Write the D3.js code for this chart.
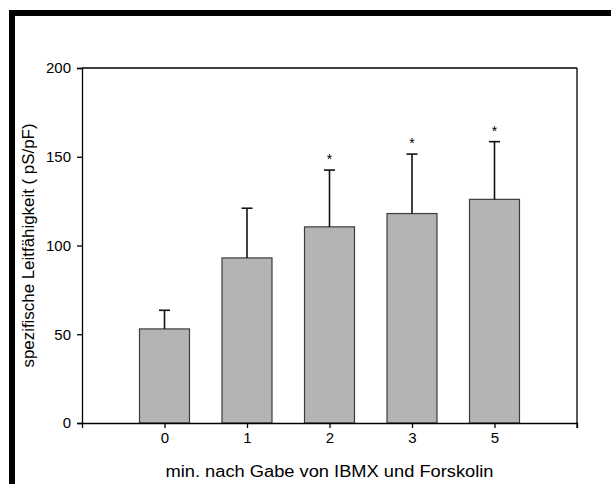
<!DOCTYPE html>
<html>
<head>
<meta charset="utf-8">
<script src="https://cdn.jsdelivr.net/npm/d3@7/dist/d3.min.js"></script>
<style>
  html, body { margin: 0; padding: 0; background: #fff; }
  svg { display: block; }
  text { font-family: "Liberation Sans", Arial, sans-serif; fill: #000; }
</style>
</head>
<body>
<svg id="chart" width="611" height="484"></svg>
<script>
// Conductance after IBMX + forskolin, mean with upward SD bars
const categories = ["0", "1", "2", "3", "5"];
const means = [53, 93, 110.5, 118, 126];
const errors = [10.5, 28, 32, 33.5, 32.5];
const significant = [false, false, true, true, true];
const yTicks = [0, 50, 100, 150, 200];
const xTitle = "min. nach Gabe von IBMX und Forskolin";
const yTitle = "spezifische Leitfähigkeit ( pS/pF)";

const svg = d3.select("#chart");
const plot = { left: 82, right: 577, top: 68, bottom: 423 };

// Outer black frame (top and left edges)
svg.append("rect").attr("x", 9).attr("y", 10).attr("width", 602).attr("height", 6).attr("fill", "#000");
svg.append("rect").attr("x", 9).attr("y", 10).attr("width", 6).attr("height", 474).attr("fill", "#000");

const x = d3.scaleLinear().domain([-1, categories.length]).range([plot.left, plot.right]);
const y = d3.scaleLinear().domain([0, 200]).range([plot.bottom, plot.top]);
const halfBar = 0.303;

// Plot frame
const frame = svg.append("g").attr("fill", "none").attr("stroke", "#000").attr("stroke-width", 1.3);
frame.append("line").attr("x1", plot.left).attr("x2", plot.right).attr("y1", plot.top).attr("y2", plot.top);
frame.append("line").attr("x1", plot.right).attr("x2", plot.right).attr("y1", plot.top).attr("y2", plot.bottom + 5);

// Bars
svg.append("g").selectAll("rect").data(means).join("rect")
  .attr("x", (d, i) => x(i - halfBar))
  .attr("width", (d, i) => x(i + halfBar) - x(i - halfBar))
  .attr("y", d => y(d))
  .attr("height", d => y(0) - y(d))
  .attr("fill", "#b4b4b4")
  .attr("stroke", "#3c3c3c")
  .attr("stroke-width", 1.2);

// Error bars (upper only)
const eb = svg.append("g").attr("stroke", "#111").attr("stroke-width", 1.6);
means.forEach((m, i) => {
  const top = y(m + errors[i]);
  eb.append("line").attr("x1", x(i)).attr("x2", x(i)).attr("y1", y(m)).attr("y2", top);
  eb.append("line").attr("x1", x(i) - 5.5).attr("x2", x(i) + 5.5).attr("y1", top).attr("y2", top);
});

// Significance markers
svg.append("g").selectAll("text").data(means.map((m, i) => ({ m, i })).filter(d => significant[d.i])).join("text")
  .attr("x", d => x(d.i))
  .attr("y", d => y(d.m + errors[d.i]) - 6)
  .attr("text-anchor", "middle")
  .attr("font-size", 14)
  .text("*");

// Y axis
const yAxis = svg.append("g").attr("transform", `translate(${plot.left},0)`)
  .call(d3.axisLeft(y).tickValues(yTicks).tickSize(5).tickPadding(6));
yAxis.selectAll("text").attr("font-size", 15);
yAxis.select(".domain").attr("stroke-width", 1.3);
yAxis.selectAll(".tick line").attr("stroke-width", 1.3);

// X axis
const xAxis = svg.append("g").attr("transform", `translate(0,${plot.bottom})`)
  .call(d3.axisBottom(x).tickValues(d3.range(categories.length)).tickFormat(i => categories[i]).tickSize(5).tickSizeOuter(5).tickPadding(4));
xAxis.selectAll("text").attr("font-size", 15);
xAxis.select(".domain").attr("stroke-width", 1.3);
xAxis.selectAll(".tick line").attr("stroke-width", 1.3);

// Axis titles
svg.append("text").attr("x", (plot.left + plot.right) / 2).attr("y", 477)
  .attr("text-anchor", "middle").attr("font-size", 16)
  .attr("textLength", 328).attr("lengthAdjust", "spacingAndGlyphs").text(xTitle);
svg.append("text").attr("transform", `translate(34,${(plot.top + plot.bottom) / 2}) rotate(-90)`)
  .attr("text-anchor", "middle").attr("font-size", 16)
  .attr("textLength", 244).attr("lengthAdjust", "spacingAndGlyphs").text(yTitle);
</script>
</body>
</html>
